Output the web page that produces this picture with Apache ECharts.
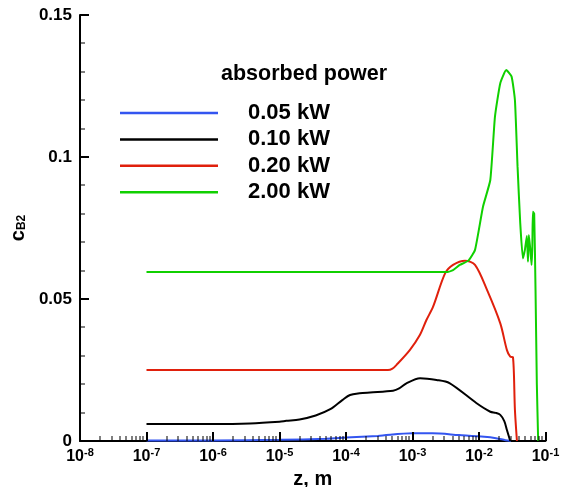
<!DOCTYPE html>
<html>
<head>
<meta charset="utf-8">
<script src="https://cdn.jsdelivr.net/npm/echarts@6/dist/echarts.min.js"></script>
<style>html,body{margin:0;padding:0;background:#fff;}#c{width:561px;height:487px;}</style>
</head>
<body>
<div id="c"></div>
<script>
var seriesNames = ['0.05 kW', '0.10 kW', '0.20 kW', '2.00 kW'];
var seriesColors = ['#3355f0', '#000000', '#e0200c', '#10d000'];

var zBlue = [1e-7, 1e-6, 1e-5, 5e-5, 1e-4, 3e-4, 1e-3, 2e-3, 5e-3, 0.012, 0.018, 0.025, 0.03];
var cBlue = [0.0002, 0.0002, 0.0004, 0.0008, 0.0012, 0.0018, 0.0027, 0.0027, 0.0021, 0.0015, 0.001, 0.0003, 0];

var zBlack = [1e-7, 1e-6, 3.6e-6, 1e-5, 1.26e-5, 2.0e-5, 3.5e-5, 5.8e-5, 8.9e-5, 1.15e-4, 1.6e-4, 2.3e-4, 5.1e-4, 6.3e-4, 8.1e-4, 1.3e-3, 2.3e-3, 3.6e-3, 9.1e-3, 0.0148, 0.0178, 0.0209, 0.024, 0.0263, 0.0295];
var cBlack = [0.006, 0.006, 0.0062, 0.0068, 0.0071, 0.0076, 0.009, 0.0112, 0.0145, 0.0162, 0.0168, 0.0171, 0.0177, 0.0185, 0.0203, 0.0221, 0.0215, 0.0204, 0.0134, 0.0103, 0.0099, 0.0092, 0.007, 0.0039, 0];

var zRed = [1e-7, 1e-5, 2e-4, 4.27e-4, 5.0e-4, 5.75e-4, 9.1e-4, 1.29e-3, 1.62e-3, 2.04e-3, 3.09e-3, 4.07e-3, 6.17e-3, 8.71e-3, 0.0132, 0.0209, 0.0263, 0.0295, 0.0324, 0.0347, 0.0372];
var cRed = [0.025, 0.025, 0.025, 0.025, 0.0255, 0.0268, 0.032, 0.0373, 0.0426, 0.0473, 0.059, 0.062, 0.0635, 0.062, 0.0532, 0.0414, 0.032, 0.0297, 0.0295, 0.0109, 0];

var zGreen = [1e-7, 1e-4, 3.24e-3, 4.07e-3, 5.13e-3, 6.92e-3, 8.71e-3, 0.01148, 0.01479, 0.01738, 0.02089, 0.0257, 0.0309, 0.0347, 0.038, 0.0417, 0.0457, 0.049, 0.0525, 0.0545, 0.0562, 0.0589, 0.0617, 0.0634, 0.0646, 0.0676, 0.0708, 0.0741, 0.0776];
var cGreen = [0.0595, 0.0595, 0.0595, 0.0602, 0.062, 0.0635, 0.0673, 0.0825, 0.0919, 0.1142, 0.126, 0.1306, 0.1283, 0.12, 0.0966, 0.0767, 0.0643, 0.0673, 0.0722, 0.0631, 0.0725, 0.0678, 0.062, 0.0684, 0.0807, 0.0801, 0.0532, 0.02, 0];

var decadeTicks = [1e-8, 1e-7, 1e-6, 1e-5, 1e-4, 1e-3, 1e-2, 1e-1];
var minorMultipliers = [2, 3, 4, 5, 6, 7, 8, 9];
var yMajorTicks = [0, 0.05, 0.1, 0.15];
var yMinorTicks = [0.01, 0.02, 0.03, 0.04, 0.06, 0.07, 0.08, 0.09, 0.11, 0.12, 0.13, 0.14];
var legendTitle = 'absorbed power';

function pairs(xs, ys) { return xs.map(function (x, i) { return [x, ys[i]]; }); }
var xMinorTicks = [];
decadeTicks.slice(0, -1).forEach(function (d) {
  minorMultipliers.forEach(function (m) { xMinorTicks.push(+(d * m).toPrecision(3)); });
});

var FONT = '"Liberation Sans", Arial, Helvetica, sans-serif';
var zs = [zBlue, zBlack, zRed, zGreen];
var cs = [cBlue, cBlack, cRed, cGreen];

var chart = echarts.init(document.getElementById('c'), null, { renderer: 'canvas' });
var lineSeries = seriesNames.map(function (n, i) {
  return {
    name: n, type: 'line', symbol: 'none', showSymbol: false,
    smooth: i === 3 ? 0.15 : 0.3,
    lineStyle: { color: seriesColors[i], width: 2 },
    itemStyle: { color: seriesColors[i] },
    data: pairs(zs[i], cs[i]), z: 2 + i
  };
});
chart.setOption({
  animation: false,
  backgroundColor: '#fff',
  textStyle: { fontFamily: FONT },
  title: {
    text: legendTitle, left: 221, top: 63, padding: 0,
    textStyle: { fontFamily: FONT, fontSize: 21.5, fontWeight: 'bold', color: '#000' }
  },
  legend: {
    orient: 'vertical', left: 120, top: 102, padding: 0,
    icon: 'rect', itemWidth: 98, itemHeight: 2.5, itemGap: 4.4,
    data: seriesNames.slice(),
    textStyle: { fontFamily: FONT, fontSize: 22, fontWeight: 'bold', color: '#000', padding: [0, 0, 0, 25], lineHeight: 20 }
  },
  grid: { left: 80, right: 15.5, top: 15, bottom: 46, outerBoundsMode: 'none' },
  xAxis: {
    type: 'log', logBase: 10, min: 1e-8, max: 1e-1,
    name: 'z, m', nameLocation: 'middle', nameGap: 27,
    nameTextStyle: { fontFamily: FONT, fontSize: 20, fontWeight: 'bold', color: '#000' },
    axisLine: { show: true, onZero: false, lineStyle: { color: '#000', width: 2 } },
    axisTick: { show: false },
    axisLabel: {
      customValues: decadeTicks.slice(), margin: 6,
      formatter: function (v) { return '{b|10}{s|' + Math.round(Math.log10(v)) + '}'; },
      rich: {
        b: { fontFamily: FONT, fontSize: 16, fontWeight: 'bold', color: '#000', lineHeight: 18, verticalAlign: 'bottom' },
        s: { fontFamily: FONT, fontSize: 11, fontWeight: 'bold', color: '#000', lineHeight: 11, verticalAlign: 'top' }
      }
    },
    splitLine: { show: false }
  },
  yAxis: {
    type: 'value', min: 0, max: 0.15, interval: 0.05,
    name: '{c|c}{s|B2}', nameLocation: 'middle', nameGap: 52,
    nameTextStyle: {
      rich: {
        c: { fontFamily: FONT, fontSize: 20, fontWeight: 'bold', color: '#000', lineHeight: 20, verticalAlign: 'bottom' },
        s: { fontFamily: FONT, fontSize: 12, fontWeight: 'bold', color: '#000', lineHeight: 12, verticalAlign: 'bottom' }
      }
    },
    axisLine: { show: true, onZero: false, lineStyle: { color: '#000', width: 2 } },
    axisTick: { show: false },
    axisLabel: { fontFamily: FONT, fontSize: 17, fontWeight: 'bold', color: '#000', margin: 8 },
    splitLine: { show: false }
  },
  series: lineSeries
});

// Axis ticks placed through the chart's own scales (convertToPixel).
var origin = chart.convertToPixel({ gridIndex: 0 }, [1e-8, 0]);
var tickEls = [];
function addX(v, len, w) {
  var p = chart.convertToPixel({ gridIndex: 0 }, [v, 0]);
  tickEls.push({ type: 'rect', silent: true, z: 100,
    shape: { x: Math.round(p[0]) - w / 2, y: origin[1] - len, width: w, height: len },
    style: { fill: '#000' } });
}
function addY(v, len, w) {
  var p = chart.convertToPixel({ gridIndex: 0 }, [1e-8, v]);
  tickEls.push({ type: 'rect', silent: true, z: 100,
    shape: { x: origin[0], y: Math.round(p[1]) - w / 2, width: len, height: w },
    style: { fill: '#000' } });
}
xMinorTicks.forEach(function (v) { addX(v, 5, 1); });
decadeTicks.forEach(function (v) { addX(v, 9, 2); });
yMinorTicks.forEach(function (v) { addY(v, 5, 1); });
yMajorTicks.forEach(function (v) { addY(v, 9, 2); });
chart.setOption({ graphic: { elements: tickEls } });
</script>
</body>
</html>
